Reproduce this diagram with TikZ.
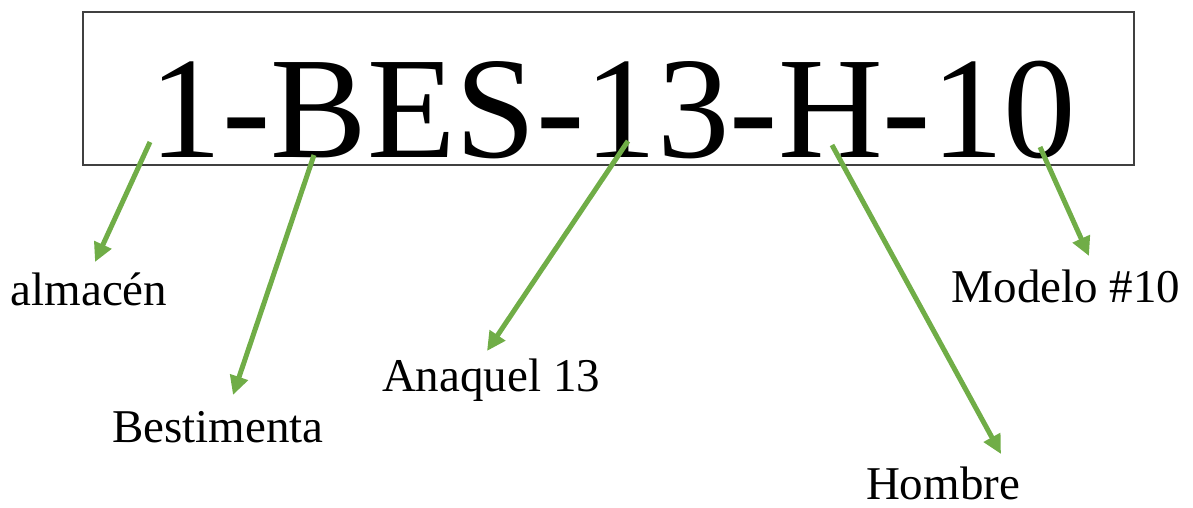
\documentclass[tikz,border=0pt]{standalone}
\usepackage{fontspec}
\setmainfont{Liberation Serif}
\usetikzlibrary{arrows.meta}
\definecolor{arrgreen}{HTML}{70AD47}
\begin{document}
\begin{tikzpicture}[x=1pt,y=-1pt,
  conn/.style={draw=arrgreen,line width=5pt,-{Triangle[length=19pt,width=18pt]}},
  lab/.style={anchor=base,inner sep=0pt,font=\fontsize{47}{47}\selectfont},
  frame/.style={draw=black!75,line width=1.3pt}]
\useasboundingbox (0,0) rectangle (1193,507);
\draw[frame] (83,12) rectangle (1134,165);
\node[anchor=base,inner sep=0pt,font=\fontsize{145}{145}\selectfont] (code) at (613,157) {1-BES-13-H-10};
\node[lab] (alm) at (89,305) {almacén};
\node[lab] (bes) at (218,442) {Bestimenta};
\node[lab] (ana) at (491,391) {Anaquel 13};
\node[lab] (hom) at (943,499) {Hombre};
\node[lab] (mod) at (1066,302) {Modelo \#10};
\coordinate (s1) at (150,142); \coordinate (e1) at (95,262);
\coordinate (s2) at (314,155); \coordinate (e2) at (233,395);
\coordinate (s3) at (628,141); \coordinate (e3) at (487,351);
\coordinate (s4) at (832,145); \coordinate (e4) at (1001,454);
\coordinate (s5) at (1040,147); \coordinate (e5) at (1089,256);
\draw[conn] (s1) -- (e1);
\draw[conn] (s2) -- (e2);
\draw[conn] (s3) -- (e3);
\draw[conn] (s4) -- (e4);
\draw[conn] (s5) -- (e5);
\end{tikzpicture}
\end{document}
